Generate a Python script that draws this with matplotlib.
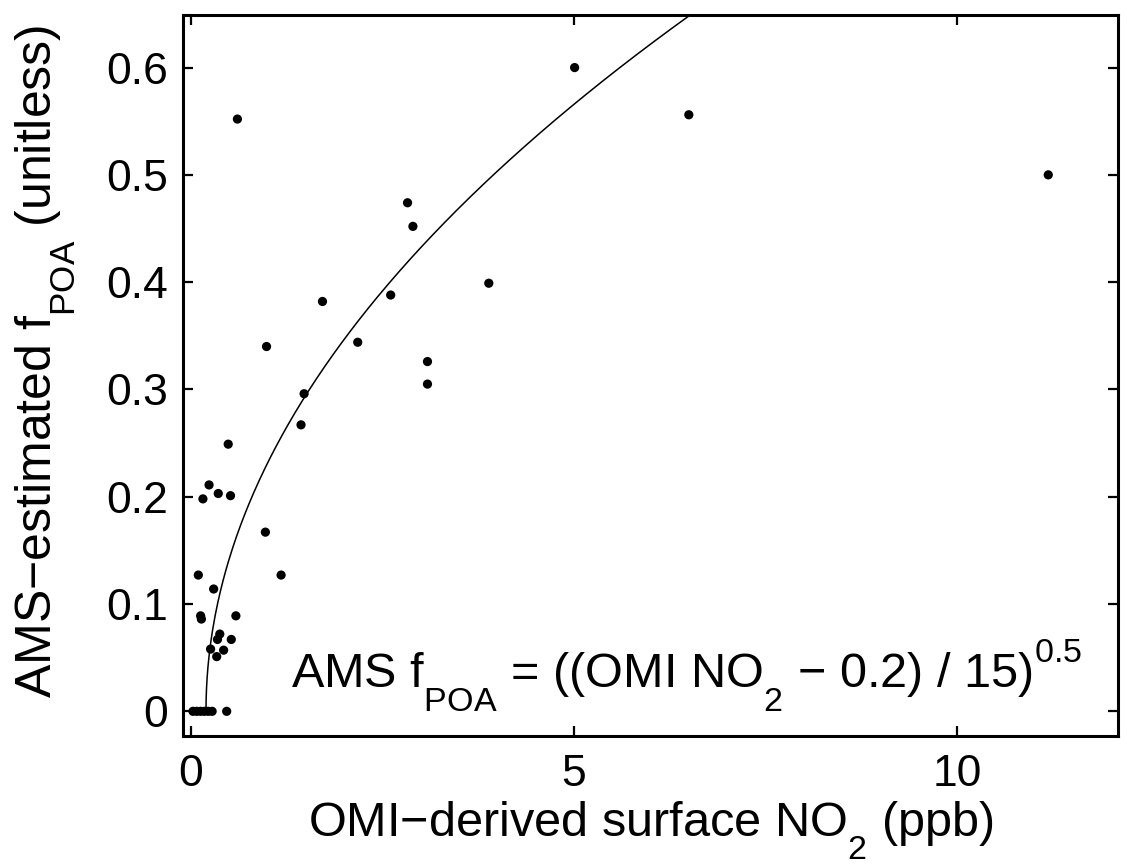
import numpy as np
import matplotlib
matplotlib.use("Agg")
import matplotlib.pyplot as plt
import matplotlib._mathtext as _mt

# ---- data ----
no2 = [5.01, 6.50, 11.19, 0.61, 2.83, 2.90, 3.89, 2.61, 1.72, 2.18,
       0.99, 3.09, 3.09, 1.48, 1.44, 0.49, 0.24, 0.16, 0.36, 0.52,
       0.975, 0.10, 1.18, 0.30, 0.13, 0.14, 0.59, 0.38, 0.35, 0.53,
       0.26, 0.34, 0.43, 0.03, 0.08, 0.13, 0.18, 0.23, 0.28, 0.47]
fpoa = [0.600, 0.556, 0.500, 0.552, 0.474, 0.452, 0.399, 0.388, 0.382, 0.344,
        0.340, 0.326, 0.305, 0.296, 0.267, 0.249, 0.211, 0.198, 0.203, 0.201,
        0.167, 0.127, 0.127, 0.114, 0.089, 0.086, 0.089, 0.072, 0.067, 0.067,
        0.058, 0.051, 0.057, 0.0, 0.0, 0.0, 0.0, 0.0, 0.0, 0.0]

# fit parameters shown in the annotation
fit_offset = 0.2
fit_scale = 15.0
fit_power = 0.5

xticks = [0, 5, 10]
yticks = [0, 0.1, 0.2, 0.3, 0.4, 0.5, 0.6]
ytick_labels = ["0", "0.1", "0.2", "0.3", "0.4", "0.5", "0.6"]

# MATLAB-like deeper sub/superscripts
try:
    _mt.FontConstantsBase.sub1 = 0.92
    _mt.FontConstantsBase.sup1 = 0.95
except Exception:
    pass

plt.rcParams['font.family'] = ['Liberation Sans', 'DejaVu Sans']
plt.rcParams['mathtext.fontset'] = 'custom'
plt.rcParams['mathtext.rm'] = 'Liberation Sans'
plt.rcParams['mathtext.it'] = 'Liberation Sans'
plt.rcParams['mathtext.bf'] = 'Liberation Sans:bold'

W, H = 1127, 867
fig = plt.figure(figsize=(W / 100, H / 100), dpi=100)
ax = fig.add_axes([183 / W, 1 - 736 / H, (1118 - 183) / W, (736 - 15) / H])

# fit curve
xf = fit_offset + np.concatenate([np.linspace(0, 0.05, 200), np.linspace(0.05, 7.0, 400)])
yf = ((xf - fit_offset) / fit_scale) ** fit_power
ax.plot(np.concatenate([[fit_offset], xf]), np.concatenate([[0.0], yf]),
        color='black', lw=1.1, zorder=2)

ax.scatter(no2, fpoa, s=44, color='black', edgecolors='none', zorder=3)

ax.set_xlim(-0.1, 12.1)
ax.set_ylim(-0.023, 0.649)
ax.set_xticks(xticks)
ax.set_yticks(yticks)
ax.set_yticklabels(ytick_labels)

for s in ax.spines.values():
    s.set_linewidth(2.2)
ax.tick_params(direction='in', length=7, width=1.6, top=True, right=True,
               labelsize=32)
ax.tick_params(axis='x', pad=13)
ax.tick_params(axis='y', pad=11)

ax.set_xlabel(r'OMI$-$derived surface NO$_2$ (ppb)', fontsize=35, labelpad=3)
ax.set_ylabel(r'AMS$-$estimated f$_{\mathrm{POA}}$ (unitless)', fontsize=36, labelpad=20)
ax.yaxis.label.set_y(0.52)

ax.text(0.9615, 0.066, r'AMS f$_{\mathrm{POA}}$ = ((OMI NO$_2$ $-$ 0.2) / 15)$^{0.5}$',
        transform=ax.transAxes, ha='right', va='baseline', fontsize=35)

fig.savefig('out.png', dpi=100)
